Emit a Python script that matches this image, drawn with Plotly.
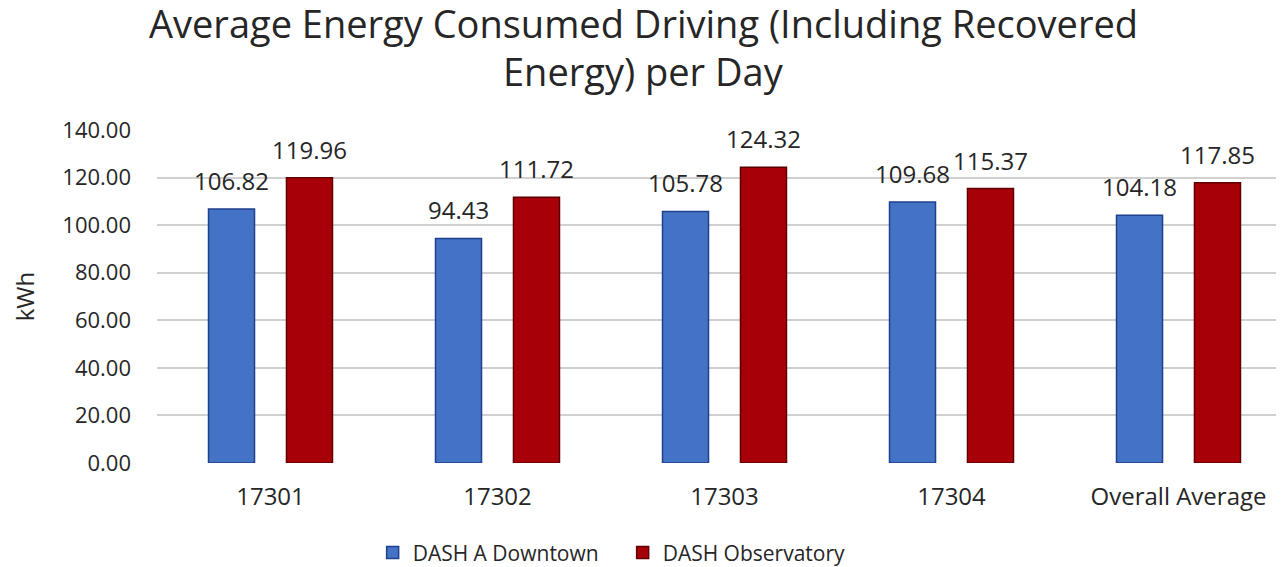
import plotly.graph_objects as go

categories = ["17301", "17302", "17303", "17304", "Overall Average"]
downtown = [106.82, 94.43, 105.78, 109.68, 104.18]
observatory = [119.96, 111.72, 124.32, 115.37, 117.85]
series_names = ["DASH A Downtown", "DASH Observatory"]
y_ticks = [0, 20, 40, 60, 80, 100, 120, 140]
title_lines = ["Average Energy Consumed Driving (Including Recovered", "Energy) per Day"]

FONT = "Open Sans"
TXT = "#262626"

fig = go.Figure()
fig.add_trace(go.Bar(
    x=categories, y=downtown, name=series_names[0],
    marker=dict(color="#4472C4", line=dict(color="#1F3F8F", width=1.5)),
))
fig.add_trace(go.Bar(
    x=categories, y=observatory, name=series_names[1],
    marker=dict(color="#A80008", line=dict(color="#5E0000", width=1.5)),
))

annotations = []
for i, c in enumerate(categories):
    for vals, shift in ((downtown, -39), (observatory, 39)):
        annotations.append(dict(
            x=i, y=vals[i], xref="x", yref="y", text=f"{vals[i]:.2f}",
            showarrow=False, yanchor="bottom", xshift=shift, yshift=10,
            font=dict(family=FONT, size=24, color=TXT),
        ))

# title lines
for txt, ty in zip(title_lines, (1.32, 1.177)):
    annotations.append(dict(
        x=0.429, y=ty, xref="paper", yref="paper", text=txt, showarrow=False,
        xanchor="center", yanchor="middle",
        font=dict(family=FONT, size=38, color=TXT),
    ))

fig.update_layout(
    width=1284, height=567,
    margin=dict(l=149, r=0, t=122, b=112, autoexpand=False),
    paper_bgcolor="white", plot_bgcolor="white",
    barmode="group", bargap=0.313, bargroupgap=0.41,
    xaxis=dict(
        type="category", range=[-0.5, 4.5], showgrid=False, showline=False, zeroline=False,
        tickfont=dict(family=FONT, size=24, color=TXT), ticks="", automargin=False,
        ticklabelstandoff=17,
    ),
    yaxis=dict(
        range=[0, 140], tickvals=y_ticks, tickformat=".2f",
        showgrid=True, gridcolor="#D0D0D0", gridwidth=1.5,
        zeroline=False, showline=False, ticks="", automargin=False,
        ticklabelstandoff=25,
        tickfont=dict(family=FONT, size=22, color=TXT),
        title=dict(text="kWh", font=dict(family=FONT, size=24, color=TXT), standoff=23),
    ),
    legend=dict(
        orientation="h", x=0.4787, xref="container", xanchor="center",
        y=0.003, yref="container", yanchor="bottom",
        font=dict(family=FONT, size=21, color=TXT),
        itemwidth=30, entrywidth=205, entrywidthmode="pixels",
    ),
    annotations=annotations,
)

fig.write_html("out.html")
